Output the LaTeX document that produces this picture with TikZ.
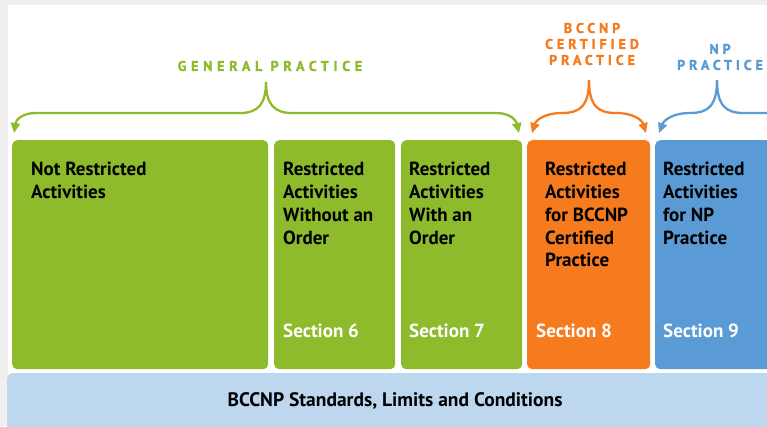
\documentclass[tikz,border=0pt]{standalone}
\usepackage{fontspec}
\setmainfont{PT Sans}
\usetikzlibrary{arrows.meta}

\definecolor{verde}{HTML}{8DBB2B}
\definecolor{laranja}{HTML}{F57B1E}
\definecolor{azul}{HTML}{5B9BD5}
\definecolor{azulclaro}{HTML}{BDD8EE}
\definecolor{fundo}{HTML}{EFEFEF}

\tikzset{
    caixa/.style={rounded corners=5pt, inner sep=0pt, anchor=north west},
    titulo/.style={font=\bfseries\fontsize{19}{22.8}\selectfont, align=left, anchor=north west, inner sep=0pt},
    secao/.style={font=\bfseries\fontsize{19}{22}\selectfont, text=white, anchor=west, inner sep=0pt},
    rotulo/.style={font=\bfseries\fontsize{14}{16}\selectfont\addfontfeature{LetterSpace=#1, FakeBold=1.6}, align=center, inner sep=0pt},
    rotulo/.default=28,
    chave/.style={line width=2.3pt, -{Triangle[length=10pt,width=9pt]}},
}

\begin{document}
\begin{tikzpicture}[x=1pt, y=-1pt]
    \useasboundingbox (0,0) rectangle (767,426);
    \clip (0,0) rectangle (767,426);

    % Fundo
    \fill[fundo] (0,0) rectangle (767,426);
    \fill[white] (8,5) rectangle (767,426);

    % Caixas
    \node[caixa, fill=verde, minimum width=256pt, minimum height=229pt] (livre) at (12,140) {};
    \node[caixa, fill=verde, minimum width=121pt, minimum height=229pt] (semordem) at (274,140) {};
    \node[caixa, fill=verde, minimum width=121pt, minimum height=229pt] (comordem) at (401,140) {};
    \node[caixa, fill=laranja, minimum width=123pt, minimum height=229pt] (certificada) at (527,140) {};
    \node[caixa, fill=azul, minimum width=130pt, minimum height=229pt] (np) at (655,140) {};
    \node[caixa, fill=azulclaro, minimum width=780pt, minimum height=70pt] (normas) at (7,373) {};

    % Textos das caixas
    \node[titulo] (tlivre) at (31,162) {Not Restricted\\Activities};
    \node[titulo] (tsemordem) at (283,162) {Restricted\\Activities\\Without an\\Order};
    \node[titulo] (tcomordem) at (409,162) {Restricted\\Activities\\With an\\Order};
    \node[titulo] (tcertificada) at (545,162) {Restricted\\Activities\\for BCCNP\\Certified\\Practice};
    \node[titulo] (tnp) at (663,162) {Restricted\\Activities\\for NP\\Practice};

    % Secoes
    \node[secao] (s6) at (283,331) {Section 6};
    \node[secao] (s7) at (409,331) {Section 7};
    \node[secao] (s8) at (536,331) {Section 8};
    \node[secao] (s9) at (663,331) {Section 9};

    \node[font=\bfseries\fontsize{19.5}{22}\selectfont, inner sep=0pt] (tnormas) at (395,401) {BCCNP Standards, Limits and Conditions};

    % Chaves
    \coordinate (pg) at (266,82);
    \draw[chave, verde] (pg) .. controls (266,104) and (258,113) .. (240,113) -- (36,113) .. controls (22,113) and (16,120) .. (14,133);
    \draw[chave, verde] (pg) .. controls (266,104) and (274,113) .. (292,113) -- (496,113) .. controls (510,113) and (516,120) .. (519,133);

    \coordinate (pc) at (589,80);
    \draw[chave, laranja] (pc) .. controls (589,106) and (580,113) .. (562,113) .. controls (545,113) and (536,120) .. (532,133);
    \draw[chave, laranja] (pc) .. controls (589,106) and (598,113) .. (616,113) .. controls (633,113) and (642,120) .. (646,133);

    \coordinate (pn) at (717,80);
    \draw[chave, azul] (pn) .. controls (717,106) and (708,113) .. (690,113) .. controls (673,113) and (664,120) .. (659,133);
    \draw[line width=2.3pt, azul] (pn) .. controls (717,106) and (726,113) .. (744,113) -- (770,113);

    % Rotulos
    \node[rotulo=34, text=verde] (lgeral) at (270,66) {GENERAL PRACTICE};
    \node[rotulo, text=laranja] (lcertificada) at (592,44) {BCCNP\\CERTIFIED\\PRACTICE};
    \node[rotulo, text=azul] (lnp) at (720,57) {NP\\PRACTICE};
\end{tikzpicture}
\end{document}
